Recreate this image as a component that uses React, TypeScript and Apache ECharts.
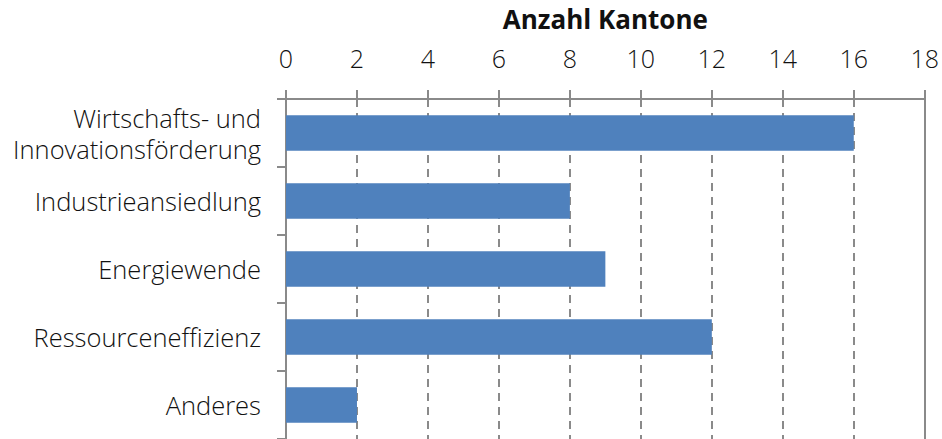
import React, { useEffect, useRef } from "react";
import * as echarts from "echarts";

const categories = [
  "Wirtschafts- und\nInnovationsförderung",
  "Industrieansiedlung",
  "Energiewende",
  "Ressourceneffizienz",
  "Anderes",
];
const values = [16, 8, 9, 12, 2];
const axisTitle = "Anzahl Kantone";

const FONT = "'Open Sans', 'Noto Sans', sans-serif";
const GREY = "#8a8a8a";

export default function App() {
  const ref = useRef<HTMLDivElement>(null);
  useEffect(() => {
    if (!ref.current) return;
    const chart = echarts.init(ref.current, undefined, { renderer: "svg" });
    chart.setOption({
      animation: false,
      grid: { left: 286, right: 16, top: 99, bottom: -3, containLabel: false },
      xAxis: {
        type: "value",
        position: "top",
        min: 0,
        max: 18,
        interval: 2,
        name: axisTitle,
        nameLocation: "middle",
        nameGap: 67,
        nameTextStyle: { fontFamily: FONT, fontSize: 26, fontWeight: "bold", color: "#111" },
        axisLine: { show: true, lineStyle: { color: GREY, width: 2 } },
        axisTick: { show: true, inside: false, length: 9, lineStyle: { color: GREY, width: 2 } },
        axisLabel: { fontFamily: FONT, fontSize: 25, fontWeight: 300, color: "#111", margin: 29 },
        splitLine: { show: true, lineStyle: { color: GREY, width: 2, type: [8, 6] } },
      },
      yAxis: [
        {
          type: "category",
          data: categories,
          inverse: true,
          axisLine: { show: true, lineStyle: { color: GREY, width: 2 } },
          axisTick: { show: true, length: 9, alignWithLabel: false, lineStyle: { color: GREY, width: 2 } },
          axisLabel: {
            fontFamily: FONT,
            fontSize: 25.5,
            fontWeight: 300,
            color: "#111",
            margin: 25,
            lineHeight: 31,
            align: "right",
          },
        },
        {
          type: "category",
          data: categories,
          inverse: true,
          position: "right",
          axisLine: { show: true, lineStyle: { color: GREY, width: 2 } },
          axisTick: { show: false },
          axisLabel: { show: false },
        },
      ],
      series: [
        {
          type: "bar",
          data: values,
          yAxisIndex: 0,
          barCategoryGap: "48%",
          itemStyle: { color: "#4F81BD" },
        },
      ],
    });
    return () => chart.dispose();
  }, []);
  return <div ref={ref} style={{ width: 942, height: 439, position: "absolute", left: 0, top: 0 }} />;
}
